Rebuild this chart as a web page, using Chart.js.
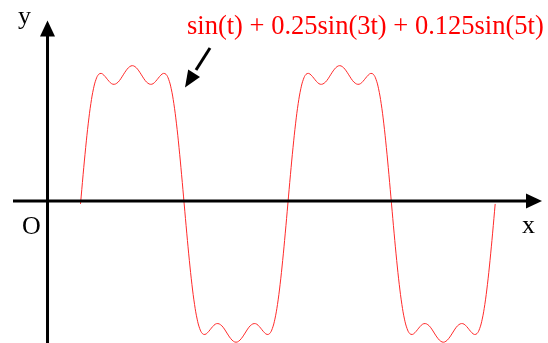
<!DOCTYPE html>
<html>
<head>
<meta charset="utf-8">
<script src="https://cdn.jsdelivr.net/npm/chart.js@4/dist/chart.umd.min.js"></script>
<style>
  html, body { margin: 0; padding: 0; background: #fff; }
  #wrap { width: 548px; height: 343px; position: relative; }
</style>
</head>
<body>
<div id="wrap"><canvas id="chart-wave"></canvas></div>
<script>
// sample angles t (degrees)
const tDegrees = [
  0, 4.5, 9, 13.5, 18, 22.5, 27, 31.5, 36, 40.5, 45, 49.5, 54, 58.5, 63, 67.5, 72, 76.5, 81, 85.5, 90,
  94.5, 99, 103.5, 108, 112.5, 117, 121.5, 126, 130.5, 135, 139.5, 144, 148.5, 153, 157.5, 162, 166.5, 171, 175.5, 180,
  184.5, 189, 193.5, 198, 202.5, 207, 211.5, 216, 220.5, 225, 229.5, 234, 238.5, 243, 247.5, 252, 256.5, 261, 265.5, 270,
  274.5, 279, 283.5, 288, 292.5, 297, 301.5, 306, 310.5, 315, 319.5, 324, 328.5, 333, 337.5, 342, 346.5, 351, 355.5, 360,
  364.5, 369, 373.5, 378, 382.5, 387, 391.5, 396, 400.5, 405, 409.5, 414, 418.5, 423, 427.5, 432, 436.5, 441, 445.5, 450,
  454.5, 459, 463.5, 468, 472.5, 477, 481.5, 486, 490.5, 495, 499.5, 504, 508.5, 513, 517.5, 522, 526.5, 531, 535.5, 540,
  544.5, 549, 553.5, 558, 562.5, 567, 571.5, 576, 580.5, 585, 589.5, 594, 598.5, 603, 607.5, 612, 616.5, 621, 625.5, 630,
  634.5, 639, 643.5, 648, 652.5, 657, 661.5, 666, 670.5, 675, 679.5, 684, 688.5, 693, 697.5, 702, 706.5, 711, 715.5, 720
];

// curve values at those angles
const waveValues = [
  0, 0.185, 0.358, 0.511, 0.636, 0.729, 0.789, 0.820, 0.826, 0.815, 0.796, 0.776, 0.761, 0.757, 0.764, 0.780, 0.804, 0.830, 0.853, 0.869, 0.875,
  0.869, 0.853, 0.830, 0.804, 0.780, 0.764, 0.757, 0.761, 0.776, 0.796, 0.815, 0.826, 0.820, 0.789, 0.729, 0.636, 0.511, 0.358, 0.185, 0,
  -0.185, -0.358, -0.511, -0.636, -0.729, -0.789, -0.820, -0.826, -0.815, -0.796, -0.776, -0.761, -0.757, -0.764, -0.780, -0.804, -0.830, -0.853, -0.869, -0.875,
  -0.869, -0.853, -0.830, -0.804, -0.780, -0.764, -0.757, -0.761, -0.776, -0.796, -0.815, -0.826, -0.820, -0.789, -0.729, -0.636, -0.511, -0.358, -0.185, 0,
  0.185, 0.358, 0.511, 0.636, 0.729, 0.789, 0.820, 0.826, 0.815, 0.796, 0.776, 0.761, 0.757, 0.764, 0.780, 0.804, 0.830, 0.853, 0.869, 0.875,
  0.869, 0.853, 0.830, 0.804, 0.780, 0.764, 0.757, 0.761, 0.776, 0.796, 0.815, 0.826, 0.820, 0.789, 0.729, 0.636, 0.511, 0.358, 0.185, 0,
  -0.185, -0.358, -0.511, -0.636, -0.729, -0.789, -0.820, -0.826, -0.815, -0.796, -0.776, -0.761, -0.757, -0.764, -0.780, -0.804, -0.830, -0.853, -0.869, -0.875,
  -0.869, -0.853, -0.830, -0.804, -0.780, -0.764, -0.757, -0.761, -0.776, -0.796, -0.815, -0.826, -0.820, -0.789, -0.729, -0.636, -0.511, -0.358, -0.185, 0
];

const axisLabels = ['x', 'y', 'O'];
const formulaText = 'sin(t) + 0.25sin(3t) + 0.125sin(5t)';

const points = tDegrees.map((t, i) => ({ x: t, y: waveValues[i] }));

// small helper: filled triangle arrow head
function arrowHead(ctx, tipX, tipY, fromX, fromY, len, half) {
  const ang = Math.atan2(tipY - fromY, tipX - fromX);
  const bx = tipX - len * Math.cos(ang), by = tipY - len * Math.sin(ang);
  ctx.beginPath();
  ctx.moveTo(tipX, tipY);
  ctx.lineTo(bx + half * Math.sin(ang), by - half * Math.cos(ang));
  ctx.lineTo(bx - half * Math.sin(ang), by + half * Math.cos(ang));
  ctx.closePath();
  ctx.fill();
}

// axes with arrows, labels and the formula callout
const axesPlugin = {
  id: 'arrowAxes',
  afterDatasetsDraw(chart) {
    const ctx = chart.ctx;
    const xs = chart.scales.x, ys = chart.scales.y;
    const y0 = ys.getPixelForValue(0.018);
    const x0 = xs.getPixelForValue(-57.3);
    ctx.save();
    ctx.strokeStyle = '#000';
    ctx.fillStyle = '#000';
    ctx.lineWidth = 3;

    // x axis
    ctx.beginPath();
    ctx.moveTo(13, y0);
    ctx.lineTo(528, y0);
    ctx.stroke();
    arrowHead(ctx, 542, y0, 13, y0, 16, 7.5);

    // y axis
    ctx.beginPath();
    ctx.moveTo(x0, 343);
    ctx.lineTo(x0, 34);
    ctx.stroke();
    arrowHead(ctx, x0, 20.5, x0, 343, 16, 7.5);

    // callout arrow
    ctx.beginPath();
    ctx.moveTo(210, 48);
    ctx.lineTo(196, 70);
    ctx.stroke();
    arrowHead(ctx, 185, 87.5, 210, 48, 17, 7);

    ctx.font = '26px "Liberation Serif", "Times New Roman", serif';
    ctx.textBaseline = 'alphabetic';
    ctx.fillText(axisLabels[1], 18, 23.5);
    ctx.fillText(axisLabels[2], 22, 234);
    ctx.fillText(axisLabels[0], 522, 233);

    ctx.fillStyle = '#ff0000';
    ctx.font = '26.5px "Liberation Serif", "Times New Roman", serif';
    ctx.fillText(formulaText, 187, 33.5);
    ctx.restore();
  }
};

new Chart(document.getElementById('chart-wave'), {
  type: 'line',
  data: {
    datasets: [{
      data: points,
      borderColor: '#ff2a2a',
      borderWidth: 1,
      pointRadius: 0,
      tension: 0.4,
      fill: false
    }]
  },
  options: {
    responsive: true,
    maintainAspectRatio: false,
    animation: false,
    layout: { padding: 0 },
    scales: {
      x: { type: 'linear', min: -139.8, max: 811.7, display: false },
      y: { min: -0.880, max: 1.2905, display: false }
    },
    plugins: {
      legend: { display: false },
      tooltip: { enabled: false }
    }
  },
  plugins: [axesPlugin]
});
</script>
</body>
</html>
